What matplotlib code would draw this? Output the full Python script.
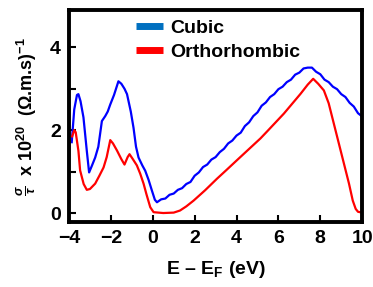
import matplotlib
matplotlib.use("Agg")
import matplotlib.pyplot as plt
from matplotlib.lines import Line2D

plt.rcParams['font.family'] = ['Liberation Sans', 'DejaVu Sans']
plt.rcParams['font.weight'] = 'bold'
plt.rcParams['mathtext.fontset'] = 'custom'
plt.rcParams['mathtext.rm'] = 'Liberation Sans:bold'
plt.rcParams['mathtext.bf'] = 'Liberation Sans:bold'
plt.rcParams['mathtext.it'] = 'Liberation Sans:italic'

# Cubic
cubic_x = [-3.87, -3.75, -3.62, -3.55, -3.45, -3.31, -3.15, -3.04, -2.9, -2.75, -2.6, -2.43,
           -2.27, -2.15, -2.03, -1.85, -1.64, -1.5, -1.35, -1.23, -1.05, -0.92, -0.8, -0.68,
           -0.5, -0.36, -0.2, -0.04, 0.1, 0.2,
           0.4, 0.6, 0.8, 1.0, 1.2, 1.4, 1.6, 1.8, 2.0, 2.2, 2.4, 2.6, 2.8, 3.0, 3.2, 3.4,
           3.6, 3.8, 4.0, 4.2, 4.4, 4.6, 4.8, 5.0, 5.2, 5.4, 5.6, 5.8, 6.0, 6.2, 6.4, 6.6,
           6.8, 7.0, 7.2, 7.4, 7.6, 7.8, 8.0, 8.2, 8.4, 8.6, 8.8, 9.0, 9.2, 9.4, 9.6, 9.8, 10.0]
cubic_y = [1.71, 2.5, 2.85, 2.87, 2.7, 2.31, 1.5, 0.98, 1.15, 1.34, 1.6, 2.22,
           2.34, 2.45, 2.62, 2.85, 3.18, 3.12, 3.0, 2.87, 2.45, 2.06, 1.6, 1.34,
           1.15, 1.02, 0.8, 0.54, 0.32, 0.26,
           0.33, 0.35, 0.44, 0.47, 0.56, 0.60, 0.70, 0.75, 0.90, 0.98, 1.11, 1.17, 1.29, 1.35,
           1.47, 1.55, 1.68, 1.75, 1.87, 1.94, 2.10, 2.19, 2.34, 2.43, 2.59, 2.67, 2.80, 2.87,
           2.99, 3.05, 3.16, 3.22, 3.34, 3.39, 3.49, 3.51, 3.51, 3.41, 3.35, 3.22, 3.16, 3.05,
           2.99, 2.87, 2.80, 2.66, 2.57, 2.41, 2.33]

# Orthorhombic
ortho_x = [-3.85, -3.75, -3.68, -3.55, -3.47, -3.3, -3.15, -3.0, -2.75, -2.55, -2.35, -2.2,
           -2.03, -1.9, -1.71, -1.5, -1.35, -1.2, -1.11, -0.95, -0.76, -0.6, -0.44, -0.3,
           -0.12, 0.04, 0.5, 1.0, 1.3, 1.6, 1.95, 2.5, 3.07, 3.5, 4.03, 4.67, 5.14, 5.46,
           6.26, 7.06, 7.4, 7.66, 7.9, 8.17, 8.4, 8.57, 8.97, 9.37, 9.55, 9.69, 9.8, 10.0]
ortho_y = [1.85, 2.0, 1.95, 1.5, 1.03, 0.7, 0.56, 0.58, 0.71, 0.9, 1.1, 1.35,
           1.76, 1.68, 1.51, 1.3, 1.17, 1.35, 1.42, 1.3, 1.15, 0.95, 0.71, 0.45,
           0.14, 0.02, 0.0, 0.01, 0.06, 0.16, 0.3, 0.55, 0.83, 1.03, 1.28, 1.58, 1.80, 1.97,
           2.40, 2.88, 3.1, 3.24, 3.12, 2.96, 2.65, 2.31, 1.51, 0.71, 0.3, 0.1, 0.03, 0.01]

xticks = [-4, -2, 0, 2, 4, 6, 8, 10]
yticks = [0, 2, 4]
minor_yticks = [1, 3]
labels = ['Cubic', 'Orthorhombic']

fig = plt.figure(figsize=(3.73, 2.87), dpi=100)
ax = fig.add_axes([0.185, 0.226, 0.786, 0.739])

ax.plot(cubic_x, cubic_y, color='#0000FF', lw=1.6)
ax.plot(ortho_x, ortho_y, color='#FF0000', lw=1.6)

handles = [Line2D([], [], color='#0070C0', lw=5, solid_capstyle='butt'),
           Line2D([], [], color='#FF0000', lw=5, solid_capstyle='butt')]
ax.legend(handles, labels, loc='upper left', bbox_to_anchor=(0.228, 0.955),
          frameon=False, handlelength=1.4, handletextpad=0.35,
          labelspacing=0.3, borderaxespad=0.0, borderpad=0.0,
          prop={'weight': 'bold', 'size': 14})

ax.set_xlim(-4, 10)
ax.set_ylim(-0.22, 4.9)
ax.set_xticks(xticks)
ax.set_yticks(yticks)
ax.set_yticks(minor_yticks, minor=True)
ax.tick_params(axis='both', which='both', direction='in', labelsize=14, width=1.5, length=5, pad=6)
for lab in ax.get_xticklabels() + ax.get_yticklabels():
    lab.set_fontweight('bold')
for s in ax.spines.values():
    s.set_linewidth(2.8)

ax.set_xlabel(r'E – E$_\mathrm{F}$ (eV)', fontsize=14, fontweight='bold', labelpad=8)
ax.set_ylabel(r'$\frac{\sigma}{\tau}$  x 10$^{20}$  ($\Omega$.m.s)$^{-1}$', fontsize=13,
              fontweight='bold', labelpad=8)

fig.savefig('out.png', dpi=100)
